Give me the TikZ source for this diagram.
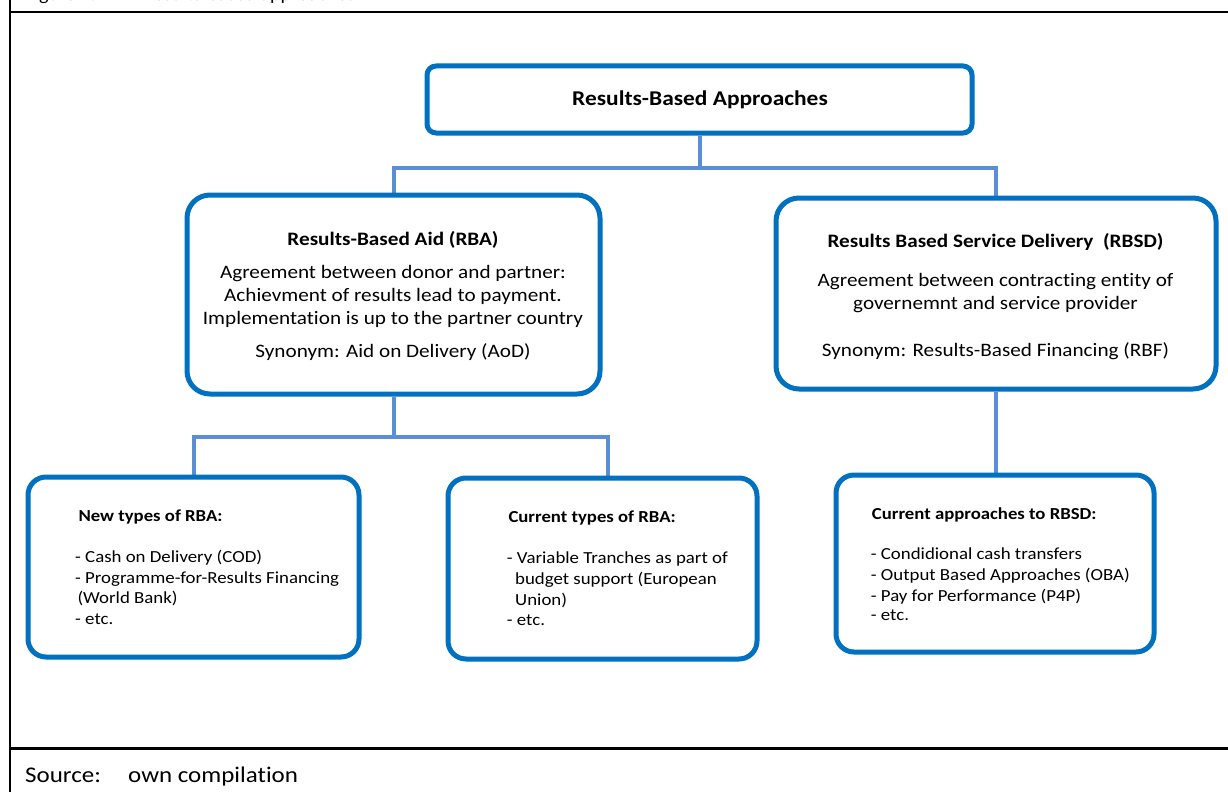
\documentclass[tikz,border=0pt]{standalone}
\usepackage{fontspec}
\setmainfont{Carlito}[FakeStretch=1.115, Ligatures=NoCommon]
\usetikzlibrary{backgrounds}
\definecolor{boxblue}{HTML}{0070C0}
\definecolor{linkblue}{HTML}{5B8ED6}
\tikzset{
  boxbase/.style={draw=boxblue, line width=5pt, fill=white, inner sep=0pt},
  topbox/.style={boxbase, rounded corners=9pt},
  bigbox/.style={boxbase, rounded corners=23pt},
  smallbox/.style={boxbase, rounded corners=18pt},
  conn/.style={draw=linkblue, line width=4pt},
  framel/.style={draw=black, line width=2.5pt},
  toptitle/.style={inner sep=0pt, anchor=base, font=\bfseries\fontsize{21}{25}\selectfont},
  bodytitle/.style={inner sep=0pt, anchor=base, font=\bfseries\fontsize{19}{23}\selectfont},
  bodytxt/.style={inner sep=0pt, anchor=base, font=\fontsize{19}{23}\selectfont},
  smallhead/.style={inner sep=0pt, anchor=base west, font=\bfseries\fontsize{16.8}{20}\selectfont},
  smalltxt/.style={inner sep=0pt, anchor=base west, font=\fontsize{16.9}{20}\selectfont},
  srctxt/.style={inner sep=0pt, anchor=base west, font=\fontsize{22.4}{26}\selectfont},
  captxt/.style={inner sep=0pt, anchor=base west, font=\fontsize{18}{22}\selectfont}
}
\begin{document}
\begin{tikzpicture}[x=1pt,y=-1pt]
\useasboundingbox (0,0) rectangle (1228,792);

% clipped caption at the very top (only its lowest part shows)
\begin{scope}
  \clip (0,0) rectangle (1228,11);
  \node[captxt] (capnum) at (25,0.5) {Figure 1:};
  \node[captxt] (captitle) at (143,0.5) {Results-based approaches};
\end{scope}

% frame
\draw[framel] (10,0) -- (10,792);
\draw[framel] (10,12) -- (1228,12);
\draw[framel] (10,748.5) -- (1228,748.5);

% boxes
\node[topbox, minimum width=545pt, minimum height=67pt] (top) at (699.5,99.5) {};
\node[bigbox, minimum width=413pt, minimum height=199pt] (rba) at (393.5,294.5) {};
\node[bigbox, minimum width=440pt, minimum height=191pt] (rbsd) at (996,293.5) {};
\node[smallbox, minimum width=331pt, minimum height=180pt] (newrba) at (193.5,567) {};
\node[smallbox, minimum width=309pt, minimum height=181pt] (currba) at (602.5,568.5) {};
\node[smallbox, minimum width=318pt, minimum height=177pt] (rbsdapp) at (995,563.5) {};

% connectors
\begin{scope}[on background layer]
\fill[white] (0,0) rectangle (1228,792);
\draw[conn] (top.south) -- ++(0,32) coordinate (j1);
\draw[conn] (rba.north) |- (j1) -| (rbsd.north);
\draw[conn] (rba.south) -- ++(0,40) coordinate (j2);
\draw[conn] (newrba.north) |- (j2) -| ([xshift=5pt]currba.north);
\draw[conn] (rbsd.south) -- (rbsd.south |- rbsdapp.north);
\end{scope}

% texts
\node[toptitle] (tTitle) at (700,105) {Results-Based Approaches};

\node[bodytitle] (rbaT) at (393,245) {Results-Based Aid (RBA)};
\node[bodytxt] (rbaL1) at (393,278) {Agreement between donor and partner:};
\node[bodytxt] (rbaL2) at (393,301) {Achievment of results lead to payment.};
\node[bodytxt] (rbaL3) at (393,324) {Implementation is up to the partner country};
\node[bodytxt] (rbaS) at (393,357.5) {Synonym: Aid on Delivery (AoD)};

\node[bodytitle] (rbsdT) at (995.5,247.5) {Results Based Service Delivery\ \ (RBSD)};
\node[bodytxt] (rbsdL1) at (995.5,286.5) {Agreement between contracting entity of};
\node[bodytxt] (rbsdL2) at (995.5,309.5) {governemnt and service provider};
\node[bodytxt] (rbsdS) at (995.5,356.5) {Synonym: Results-Based Financing (RBF)};

\node[smallhead] (nH) at (78.3,521) {New types of RBA:};
\node[smalltxt] (n1) at (75,562.7) {- Cash on Delivery (COD)};
\node[smalltxt] (n2) at (75,583.3) {- Programme-for-Results Financing};
\node[smalltxt] (n3) at (77.3,603.8) {(World Bank)};
\node[smalltxt] (n4) at (75,624.3) {- etc.};

\node[smallhead] (cH) at (508.3,522.3) {Current types of RBA:};
\node[smalltxt] (c1) at (506.7,563.3) {- Variable Tranches as part of};
\node[smalltxt] (c2) at (515,584.3) {budget support (European};
\node[smalltxt] (c3) at (515,605) {Union)};
\node[smalltxt] (c4) at (506.7,625.5) {- etc.};

\node[smallhead] (aH) at (871.7,519) {Current approaches to RBSD:};
\node[smalltxt] (a1) at (870.7,559.5) {- Condidional cash transfers};
\node[smalltxt] (a2) at (870.7,580.3) {- Output Based Approaches (OBA)};
\node[smalltxt] (a3) at (870.7,601) {- Pay for Performance (P4P)};
\node[smalltxt] (a4) at (870.7,620.5) {- etc.};

\node[srctxt] (srcL) at (25,782.7) {Source:};
\node[srctxt] (srcR) at (128,782.7) {own compilation};
\end{tikzpicture}
\end{document}
